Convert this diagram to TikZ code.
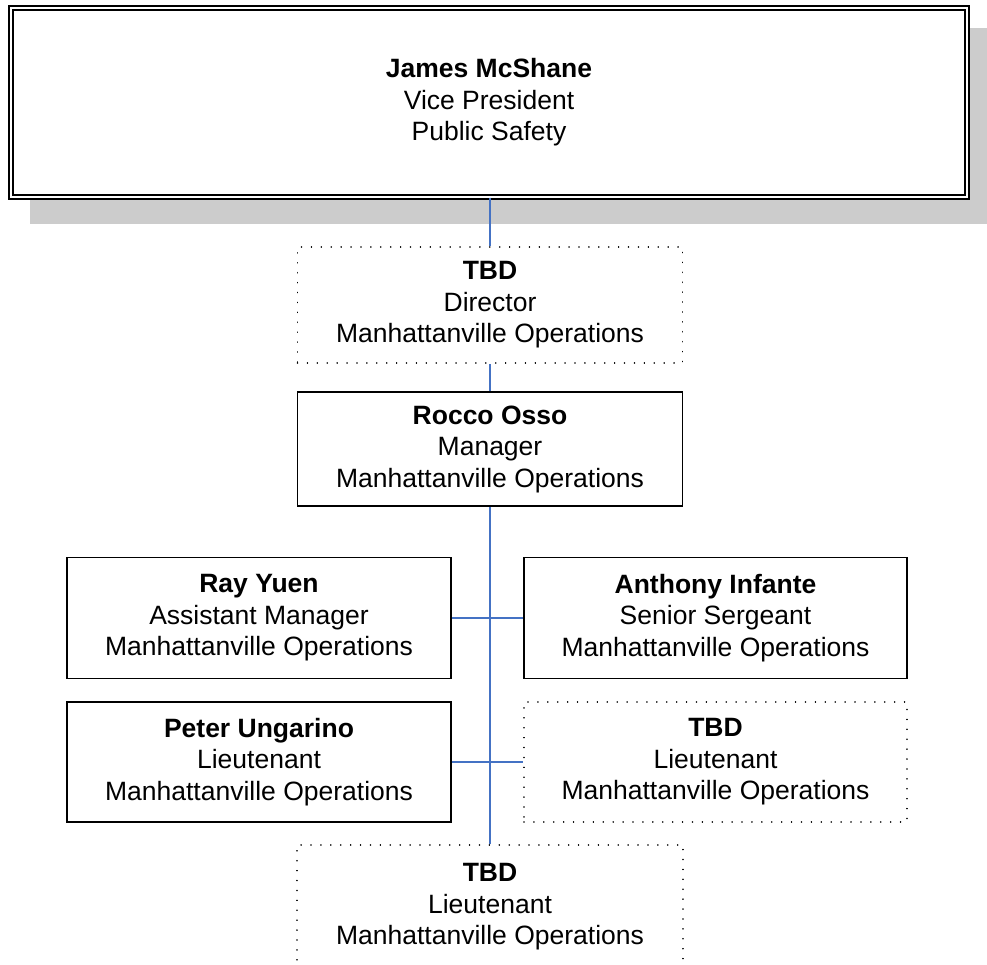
\documentclass[tikz,border=0pt]{standalone}
\usepackage{fontspec}
\setmainfont{Liberation Sans}
\definecolor{linkblue}{HTML}{4472C4}
\definecolor{shadowgray}{HTML}{CCCCCC}
\tikzset{
  box/.style={rectangle, draw=black, line width=1.8pt, fill=white, align=center,
    inner sep=0pt, font=\fontsize{26.5}{31.5}\selectfont},
  dotbox/.style={box, line width=1.6pt, dash pattern=on 0.01pt off 9.9pt, line cap=round},
  topbox/.style={box, double=white, double distance=2.8pt, line width=1.3pt},
  link/.style={draw=linkblue, line width=2pt},
}
\begin{document}
\begin{tikzpicture}[x=1pt,y=-1pt]
\clip (0,0) rectangle (987,965);
\fill[white] (0,0) rectangle (987,965);
% shadow
\fill[shadowgray] (30,28) rectangle (987,224);
% nodes
\node[topbox, minimum width=956pt, minimum height=189pt] (vp) at (489,102.5)
  {\textbf{James McShane}\\Vice President\\Public Safety};
\node[dotbox, minimum width=385pt, minimum height=116pt] (dir) at (490,305)
  {\textbf{TBD}\\Director\\Manhattanville Operations};
\node[box, minimum width=385pt, minimum height=114pt] (mgr) at (490,449)
  {\textbf{Rocco Osso}\\Manager\\Manhattanville Operations};
\node[box, minimum width=384pt, minimum height=121pt] (ray) at (259,618)
  {\textbf{Ray Yuen}\\Assistant Manager\\Manhattanville Operations};
\node[box, minimum width=383pt, minimum height=121pt] (ant) at (715.5,618)
  {\textbf{Anthony Infante}\\Senior Sergeant\\Manhattanville Operations};
\node[box, minimum width=384pt, minimum height=120pt] (pet) at (259,762)
  {\textbf{Peter Ungarino}\\Lieutenant\\Manhattanville Operations};
\node[dotbox, minimum width=383pt, minimum height=120pt] (lt1) at (715.5,762)
  {\textbf{TBD}\\Lieutenant\\Manhattanville Operations};
\node[dotbox, minimum width=386pt, minimum height=124pt] (lt2) at (490,907)
  {\textbf{TBD}\\Lieutenant\\Manhattanville Operations};
% connectors
\draw[link] (vp.south -| dir.north) -- (dir.north);
\draw[link] (dir.south) -- (mgr.north);
\draw[link] (mgr.south) -- (lt2.north);
\draw[link] (ray.east) -- (ant.west);
\draw[link] (pet.east) -- (lt1.west);
\end{tikzpicture}
\end{document}
